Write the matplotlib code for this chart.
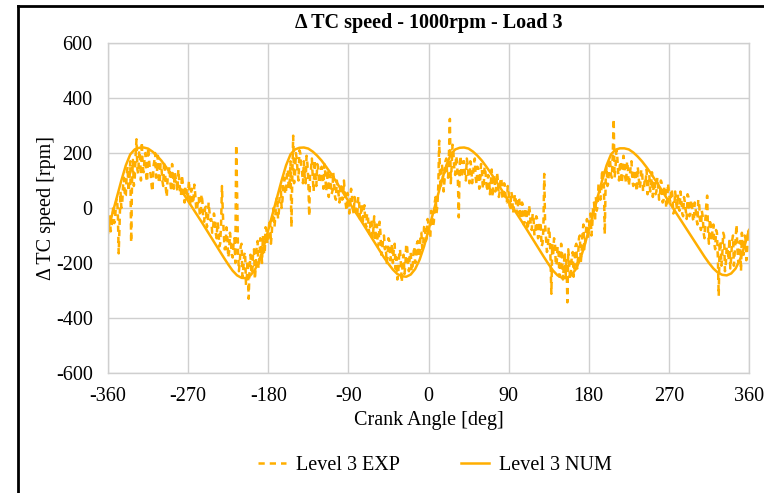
import numpy as np
import matplotlib.pyplot as plt
from matplotlib.lines import Line2D

plt.rcParams['font.family'] = ['Liberation Serif', 'DejaVu Serif']
plt.rcParams['axes.unicode_minus'] = False

# crank angle grids
angle_exp = np.arange(-360, 361, 1)
angle_num = np.arange(-360, 361, 5)

# measured TC speed fluctuation (rpm), 1 deg steps, 20 deg per row
exp_vals = [
    -95, -40, -20, -85, -70, -30, 10, -55, -40, 20, 35, -10, -165, -60, 60, 0, 20, 85, 110, 40,
    45, 120, 150, 60, 95, 170, -125, 100, 175, 80, 105, 190, 250, 140, 125, 210, 185, 100, 240, 150,
    130, 175, 200, 110, 95, 220, 180, 140, 120, 80, 60, 150, 170, 200, 110, 130, 190, 100, 90, 160,
    150, 100, 80, 170, 135, 70, 40, 110, 120, 150, 95, 60, 160, 115, 70, 130, 110, 85, 60, 140,
    100, 60, 45, 120, 90, 40, 20, 80, 75, 30, 55, 100, 10, 50, 70, 15, 30, 85, 50, 0,
    -10, 30, 40, -20, -30, 50, 25, -40, -50, 0, 5, -70, -60, 20, -15, -45, -40, -90, -80, -20,
    -40, -90, -110, -50, -75, -140, -130, -60, 80, -20, -90, -150, -150, -70, -100, -180, -160, -90, -120, -170,
    -180, -130, -110, -200, 230, 60, -150, -230, -200, -140, -130, -250, -220, -170, -160, -280, -250, -190, -330, -220,
    -170, -230, -240, -160, -150, -260, -210, -140, -120, -220, -190, -110, -140, -200, -100, -160, -170, -70, -80, -130,
    -120, -60, -40, -130, -90, -20, 0, -70, -30, 30, 40, -40, -10, 60, 80, 0, 30, 100, 110, 50,
    60, 130, 140, 70, 90, 170, -70, 110, 263, 90, 120, 200, 180, 130, 100, 210, 200, 150, 130, 90,
    170, 110, 90, 190, 160, 100, -30, 130, 140, 180, 110, 60, 175, 120, 80, 160, 150, 90, 100, 140,
    150, 100, 70, 160, 130, 60, 90, 140, 40, 120, 110, 50, 60, 130, 90, 40, 30, 100, 80, 50,
    20, 90, 75, 30, 35, 100, 60, 15, -10, 55, 45, -20, 10, 70, 50, -5, -20, 40, 20, -30,
    -30, 40, 25, -40, -20, 15, -60, -10, 10, -50, -70, -20, -30, -80, -95, -40, -45, -110, -80, -30,
    -120, -70, -60, -140, -130, -50, -90, -170, -160, -110, -100, -150, -140, -200, -180, -110, -120, -190, -170, -130,
    -200, -150, -130, -220, -180, -260, -240, -170, -150, -200, -270, -190, -170, -240, -210, -130, -140, -200, -230, -170,
    -160, -230, -220, -170, -140, -200, -190, -130, -120, -180, -170, -100, -90, -150, -140, -70, -60, -120, -110, -40,
    -60, -90, -110, -10, -20, -70, -50, 20, 40, -20, 10, 80, 245, 100, 70, 160, 130, 60, 100, 170,
    180, 120, 110, 200, 324, 90, 150, 230, 200, 140, 120, 190, 170, 100, -34, 150, 190, 110, 130, 170,
    170, 120, 100, 180, 160, 110, 90, 170, 150, 90, 120, 160, 180, 110, 85, 150, 140, 70, 100, 160,
    140, 70, 80, 150, 130, 90, 60, 120, 110, 50, 90, 140, 40, 100, 120, 60, 70, 130, 95, 40,
    60, 110, 100, 40, 30, 90, 75, 20, 20, 80, 55, 10, 0, 60, 40, -20, 10, 50, 30, -10,
    -20, 40, 30, -40, -30, 20, 10, -60, -50, 0, -10, -80, -60, 10, -20, -70, -80, -20, -40, -100,
    -90, -30, -40, -110, -100, -50, -60, -140, -130, -80, 124, -60, -110, -160, -150, -70, -90, -180, -312, -130,
    -170, -110, -120, -210, -200, -140, -150, -250, -230, -130, -170, -260, -210, -160, -250, -190, -343, -150, -200, -260,
    -230, -170, -160, -250, -210, -140, -130, -220, -180, -110, -100, -200, -160, -90, -60, -150, -120, -80, -40, -110,
    -90, -40, -20, -100, -60, 10, 20, -50, 40, -10, 10, 90, 80, 30, 60, 140, 120, 80, -95, 100,
    150, 80, 90, 180, 170, 120, 110, 200, 324, 110, 140, 210, 190, 130, 100, 160, 170, 90, 120, 190,
    160, 110, 90, 170, 140, 80, 110, 150, 170, 100, 80, 140, 130, 90, 60, 150, 120, 70, 90, 140,
    130, 60, 70, 110, 100, 140, 50, 90, 120, 60, 80, 130, 40, 90, 100, 50, 60, 110, 80, 30,
    50, 100, 90, 20, 30, 80, 70, 0, 10, 90, 60, 30, 20, 70, 45, -20, -10, 60, 30, -5,
    50, 0, -10, 60, 30, -20, -30, 40, 20, -10, -40, 50, 40, -30, -20, 30, 10, -40, -50, 20,
    0, -40, -60, 30, 20, -50, -80, -10, -30, -90, -110, -40, 10, 45, -90, -130, -40, -60, -120, -80,
    -60, -130, -150, -80, -90, -180, -320, -120, -130, -210, -170, -90, -100, -230, -200, -140, -150, -190, -110, -220,
    -180, -120, -100, -210, -160, -110, -60, -150, -200, -130, -120, -230, -90, -160, -170, -100, -110, -190, -150, -80,
    -120,
]

# simulated TC speed fluctuation (rpm), 5 deg steps
num_vals = [
    -80, -20, 40, 100, 155, 195, 213, 219,
    220, 216, 205, 190, 172, 150, 127, 102, 77, 51, 25, 0,
    -25, -50, -76, -102, -128, -154, -180, -205, -228, -245, -254, -255,
    -245, -225, -190, -140, -80, -20, 40, 100, 155, 195, 213, 219,
    220, 216, 205, 190, 172, 150, 127, 102, 77, 51, 25, 0,
    -25, -50, -76, -102, -128, -154, -180, -203, -224, -240, -248, -250,
    -242, -222, -188, -140, -80, -20, 40, 100, 155, 195, 213, 219,
    220, 216, 205, 190, 172, 150, 127, 102, 77, 51, 25, 0,
    -25, -50, -76, -102, -128, -154, -180, -205, -228, -245, -254, -255,
    -245, -225, -190, -140, -80, -20, 40, 100, 155, 195, 212, 217,
    217, 213, 202, 187, 169, 148, 125, 100, 75, 49, 23, -2,
    -27, -52, -77, -102, -127, -152, -177, -200, -220, -235, -243, -245,
    -238, -220, -186, -138, -80,
]

color = '#FFAE00'
grid_color = '#cfcfcf'

fig = plt.figure(figsize=(7.64, 4.93), dpi=100)
ax = fig.add_axes([108 / 764, 1 - 373 / 493, 641 / 764, 330 / 493])

ax.plot(angle_exp, exp_vals, color=color, lw=1.8, dashes=(2.5, 2), label='Level 3 EXP')
ax.plot(angle_num, num_vals, color=color, lw=1.8, label='Level 3 NUM')

ax.set_xlim(-360, 360)
ax.set_ylim(-600, 600)
ax.set_xticks(np.arange(-360, 361, 90))
ax.set_yticks(np.arange(-600, 601, 200))
ax.grid(True, color=grid_color, lw=1)
ax.set_axisbelow(True)
for sp in ax.spines.values():
    sp.set_color(grid_color)
    sp.set_linewidth(1)
ax.tick_params(length=0, labelsize=14.5)
ax.tick_params(axis='y', pad=11)
ax.tick_params(axis='x', pad=10)

ax.set_xlabel('Crank Angle [deg]', fontsize=14.5, labelpad=4)
ax.set_ylabel('\u0394 TC speed [rpm]', fontsize=14.5, labelpad=0)
ax.set_title('\u0394 TC speed - 1000rpm - Load 3', fontsize=14.5, fontweight='bold', pad=11)

fig.legend(loc='center', bbox_to_anchor=(435 / 764, 1 - 465 / 493), ncol=2, frameon=False,
           fontsize=14.5, handlelength=1.4, handletextpad=0.5, columnspacing=3.0)

# outer frame (only top and left visible)
fig.add_artist(Line2D([17.5 / 764, 1.0], [1 - 5.5 / 493, 1 - 5.5 / 493], color='black', lw=2,
                      transform=fig.transFigure))
fig.add_artist(Line2D([17.5 / 764, 17.5 / 764], [0, 1 - 5.5 / 493], color='black', lw=2,
                      transform=fig.transFigure))

fig.savefig('out.png', dpi=100)
